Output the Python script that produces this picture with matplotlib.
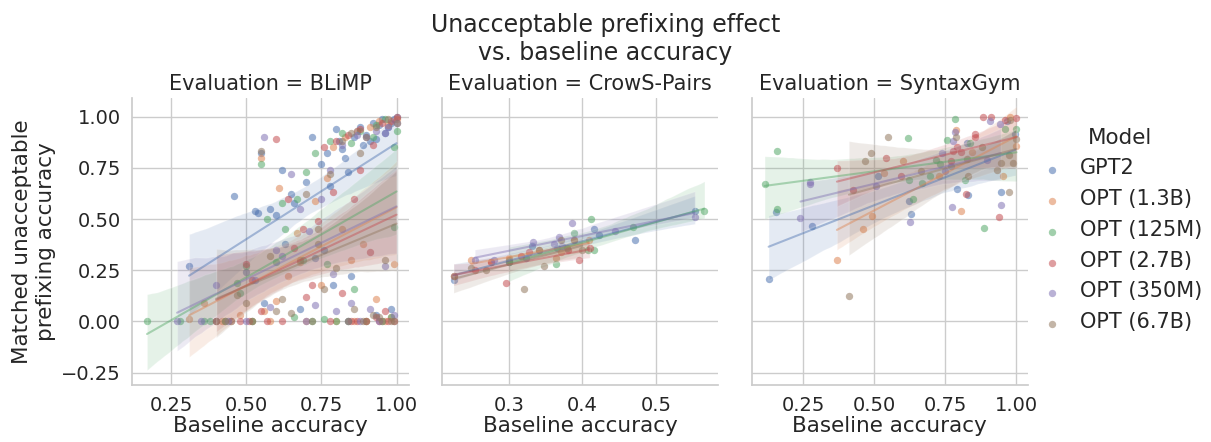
import matplotlib
matplotlib.use("Agg")
import matplotlib.pyplot as plt
from matplotlib.ticker import MultipleLocator, FuncFormatter
import numpy as np
import pandas as pd
import seaborn as sns

models = ["GPT2", "OPT (1.3B)", "OPT (125M)", "OPT (2.7B)", "OPT (350M)", "OPT (6.7B)"]
evaluations = ["BLiMP", "CrowS-Pairs", "SyntaxGym"]

# (baseline accuracy, matched unacceptable prefixing accuracy)
blimp_gpt2 = [(0.31, 0.27), (0.40, 0.0), (0.46, 0.61), (0.50, 0.24), (0.53, 0.54), (0.54, 0.53),
              (0.55, 0.82), (0.56, 0.09), (0.60, 0.52), (0.62, 0.74), (0.63, 0.38), (0.65, 0.62),
              (0.66, 0.58), (0.70, 0.68), (0.72, 0.90), (0.73, 0.31), (0.75, 0.77), (0.77, 0.82),
              (0.78, 0.66), (0.79, 0.18), (0.80, 0.94), (0.81, 0.88), (0.82, 0.84), (0.83, 0.80),
              (0.84, 0.73), (0.86, 0.90), (0.87, 0.93), (0.88, 0.95), (0.89, 0.86), (0.90, 0.91),
              (0.91, 0.88), (0.92, 0.97), (0.93, 0.89), (0.94, 0.96), (0.95, 0.99), (0.96, 0.92),
              (0.97, 0.95), (0.98, 0.97), (0.99, 0.99), (1.00, 1.00), (0.85, 0.22), (0.76, 0.35),
              (0.68, 0.06), (0.58, 0.55), (0.93, 0.03), (0.98, 0.06)]
blimp_opt13b = [(0.31, 0.01), (0.36, 0.09), (0.42, 0.0), (0.48, 0.03), (0.52, 0.0), (0.55, 0.80),
                (0.56, 0.05), (0.61, 0.65), (0.64, 0.22), (0.67, 0.43), (0.70, 0.0), (0.73, 0.59),
                (0.75, 0.18), (0.77, 0.70), (0.79, 0.85), (0.80, 0.0), (0.82, 0.45), (0.83, 0.90),
                (0.85, 0.30), (0.86, 0.0), (0.87, 0.93), (0.89, 0.38), (0.90, 0.0), (0.91, 0.95),
                (0.93, 0.11), (0.94, 0.98), (0.96, 0.0), (0.97, 0.96), (0.99, 0.28), (1.00, 0.99),
                (0.98, 0.02), (0.68, 0.29), (0.60, 0.10), (0.58, 0.0)]
blimp_opt125m = [(0.17, 0.0), (0.28, 0.0), (0.36, 0.0), (0.55, 0.77), (0.43, 0.0), (0.47, 0.19),
                 (0.50, 0.27), (0.48, 0.14), (0.38, 0.0), (0.45, 0.0), (0.52, 0.0), (0.63, 0.45),
                 (0.66, 0.02), (0.67, 0.60), (0.62, 0.58), (0.70, 0.73), (0.73, 0.82), (0.76, 0.01),
                 (0.78, 0.88), (0.80, 0.0), (0.82, 0.92), (0.84, 0.0), (0.85, 0.87), (0.86, 0.16),
                 (0.88, 0.93), (0.90, 0.0), (0.92, 0.90), (0.93, 0.96), (0.95, 0.0), (0.96, 0.99),
                 (0.98, 0.02), (0.99, 0.85), (1.00, 0.93), (0.99, 0.46), (0.77, 0.28), (0.60, 0.29),
                 (0.72, 0.0), (0.69, 0.30), (0.57, 0.50)]
blimp_opt27b = [(0.40, 0.0), (0.45, 0.0), (0.48, 0.0), (0.51, 0.0), (0.50, 0.28), (0.52, 0.20),
                (0.55, 0.05), (0.60, 0.89), (0.62, 0.0), (0.64, 0.60), (0.66, 0.36), (0.69, 0.45),
                (0.72, 0.18), (0.74, 0.49), (0.76, 0.85), (0.78, 0.0), (0.80, 0.88), (0.82, 0.14),
                (0.84, 0.91), (0.85, 0.0), (0.86, 0.60), (0.88, 0.94), (0.90, 0.0), (0.91, 0.34),
                (0.92, 0.86), (0.94, 0.0), (0.95, 0.97), (0.97, 0.0), (0.98, 0.98), (1.00, 1.00),
                (0.88, 0.74), (0.70, 0.12), (0.57, 0.0), (0.79, 0.63), (0.87, 0.0), (0.93, 0.02),
                (0.99, 0.0), (0.96, 0.05)]
blimp_opt350m = [(0.27, 0.0), (0.35, 0.0), (0.44, 0.0), (0.50, 0.0), (0.40, 0.18), (0.53, 0.20),
                 (0.56, 0.90), (0.58, 0.07), (0.62, 0.32), (0.65, 0.72), (0.68, 0.55), (0.70, 0.0),
                 (0.73, 0.08), (0.75, 0.60), (0.78, 0.74), (0.79, 0.23), (0.80, 0.05), (0.82, 0.86),
                 (0.84, 0.0), (0.85, 0.09), (0.87, 0.91), (0.88, 0.0), (0.90, 0.90), (0.91, 0.06),
                 (0.93, 0.93), (0.94, 0.0), (0.96, 0.92), (0.97, 0.95), (0.99, 0.03), (1.00, 0.97),
                 (0.96, 0.27), (0.71, 0.44), (0.60, 0.35)]
blimp_opt67b = [(0.40, 0.0), (0.43, 0.0), (0.47, 0.13), (0.50, 0.09), (0.52, 0.0), (0.55, 0.83),
                (0.58, 0.32), (0.62, 0.11), (0.65, 0.04), (0.70, 0.62), (0.72, 0.0), (0.74, 0.45),
                (0.76, 0.16), (0.78, 0.72), (0.80, 0.26), (0.82, 0.88), (0.84, 0.0), (0.85, 0.92),
                (0.86, 0.06), (0.88, 0.82), (0.89, 0.0), (0.90, 0.90), (0.92, 0.03), (0.93, 0.95),
                (0.95, 0.0), (0.96, 0.30), (0.97, 0.99), (0.99, 0.0), (1.00, 0.97), (0.74, 0.38),
                (0.68, 0.30), (0.60, 0.05), (0.98, 0.0), (0.94, 0.02)]

crows_gpt2 = [(0.225, 0.20), (0.30, 0.29), (0.324, 0.31), (0.332, 0.37), (0.365, 0.36),
              (0.416, 0.45), (0.423, 0.42), (0.471, 0.40), (0.553, 0.54)]
crows_opt13b = [(0.249, 0.30), (0.276, 0.29), (0.30, 0.31), (0.341, 0.35), (0.364, 0.31),
                (0.371, 0.34), (0.389, 0.40), (0.409, 0.40)]
crows_opt125m = [(0.30, 0.29), (0.364, 0.28), (0.389, 0.43), (0.408, 0.35), (0.412, 0.50),
                 (0.416, 0.35), (0.469, 0.46), (0.566, 0.54)]
crows_opt27b = [(0.225, 0.22), (0.254, 0.25), (0.276, 0.29), (0.296, 0.19), (0.317, 0.32),
                (0.327, 0.34), (0.380, 0.35), (0.396, 0.30), (0.410, 0.36)]
crows_opt350m = [(0.254, 0.30), (0.280, 0.30), (0.333, 0.39), (0.362, 0.38), (0.368, 0.41),
                 (0.372, 0.37), (0.386, 0.48), (0.444, 0.44), (0.553, 0.51)]
crows_opt67b = [(0.225, 0.22), (0.249, 0.26), (0.269, 0.25), (0.30, 0.30), (0.321, 0.16),
                (0.341, 0.35), (0.348, 0.27), (0.371, 0.40), (0.379, 0.36), (0.389, 0.40),
                (0.400, 0.35)]

sg_gpt2 = [(0.129, 0.206), (0.156, 0.534), (0.283, 0.466), (0.512, 0.709), (0.622, 0.586),
           (0.631, 0.526), (0.770, 0.757), (0.792, 0.647), (0.825, 0.870), (0.831, 0.618),
           (0.946, 0.631), (0.966, 0.979), (0.996, 0.914)]
sg_opt13b = [(0.369, 0.301), (0.462, 0.451), (0.494, 0.515), (0.536, 0.725), (0.601, 0.782),
             (0.729, 0.712), (0.786, 0.934), (0.804, 0.539), (0.844, 0.828), (0.954, 0.709),
             (0.978, 1.000), (1.000, 0.858)]
sg_opt125m = [(0.115, 0.672), (0.160, 0.833), (0.158, 0.550), (0.620, 0.895), (0.622, 0.690),
              (0.637, 0.597), (0.667, 0.676), (0.696, 0.712), (0.716, 0.788), (0.730, 0.770),
              (0.757, 0.887), (0.784, 0.990), (0.819, 0.688), (0.837, 0.869), (0.886, 0.458),
              (0.960, 0.939), (1.000, 0.940)]
sg_opt27b = [(0.369, 0.751), (0.427, 0.644), (0.543, 0.796), (0.593, 0.712), (0.769, 0.785),
             (0.778, 0.833), (0.790, 0.850), (0.804, 0.828), (0.821, 0.623), (0.855, 0.914),
             (0.855, 0.898), (0.884, 1.000), (0.912, 1.000), (0.940, 0.510), (0.960, 0.984),
             (1.000, 0.995)]
sg_opt350m = [(0.241, 0.506), (0.276, 0.672), (0.276, 0.683), (0.508, 0.663), (0.626, 0.485),
              (0.737, 0.822), (0.749, 0.736), (0.773, 0.561), (0.778, 0.879), (0.784, 0.926),
              (0.896, 0.788), (0.908, 0.979), (0.941, 0.963), (0.945, 0.566)]
sg_opt67b = [(0.411, 0.125), (0.467, 0.785), (0.490, 0.822), (0.548, 0.898), (0.663, 0.736),
             (0.788, 0.898), (0.825, 0.793), (0.831, 0.712), (0.879, 0.850), (0.933, 0.739),
             (0.945, 0.773), (0.972, 0.631), (0.973, 0.812), (0.978, 0.984), (0.987, 0.773),
             (1.000, 0.890)]

series = {
    "BLiMP": [blimp_gpt2, blimp_opt13b, blimp_opt125m, blimp_opt27b, blimp_opt350m, blimp_opt67b],
    "CrowS-Pairs": [crows_gpt2, crows_opt13b, crows_opt125m, crows_opt27b, crows_opt350m, crows_opt67b],
    "SyntaxGym": [sg_gpt2, sg_opt13b, sg_opt125m, sg_opt27b, sg_opt350m, sg_opt67b],
}

rows = []
for ev in evaluations:
    for model, pts in zip(models, series[ev]):
        for bx, my in pts:
            rows.append({"Evaluation": ev, "Model": model,
                         "Baseline accuracy": bx,
                         "Matched unacceptable\nprefixing accuracy": my})
df = pd.DataFrame(rows)

sns.set_theme(style="whitegrid", palette="deep")
plt.rcParams["font.family"] = ["DejaVu Sans"]

g = sns.lmplot(data=df, x="Baseline accuracy", y="Matched unacceptable\nprefixing accuracy",
               hue="Model", hue_order=models, col="Evaluation", col_order=evaluations,
               height=3.5, aspect=1.0, seed=0, legend=False,
               scatter_kws={"s": 28, "alpha": 0.55, "linewidths": 0},
               line_kws={"alpha": 0.45, "linewidth": 1.5},
               facet_kws={"sharex": False, "sharey": True})
g.add_legend(title="Model", label_order=models, labelspacing=0.7)

g.figure.set_size_inches(12.11, 4.42)
g.figure.subplots_adjust(left=0.109, right=0.849, top=0.778, bottom=0.129, wspace=0.12)

g.set_titles("Evaluation = {col_name}")


def two_dec(v, pos):
    return f"{v:.2f}".replace("-", "\u2212")


xlims = [(0.12, 1.04), (0.209, 0.585), (0.069, 1.041)]
xsteps = [0.25, 0.1, 0.25]
for ax, lim, step in zip(g.axes.flat, xlims, xsteps):
    ax.set_xlim(lim)
    ax.set_ylim(-0.31, 1.09)
    ax.xaxis.set_major_locator(MultipleLocator(step))
    ax.yaxis.set_major_locator(MultipleLocator(0.25))
    ax.yaxis.set_major_formatter(FuncFormatter(two_dec))
    if step == 0.25:
        ax.xaxis.set_major_formatter(FuncFormatter(two_dec))
    ax.tick_params(labelsize=14, pad=2)
    ax.xaxis.label.set_size(15.5)
    ax.yaxis.label.set_size(15.5)
    ax.xaxis.labelpad = 1
    ax.title.set_size(15)

g.figure.suptitle("Unacceptable prefixing effect\nvs. baseline accuracy", fontsize=17, y=0.97)

leg = g._legend
leg.set_bbox_to_anchor((0.845, 0.48))
leg.set_loc("center left")
leg.get_title().set_fontsize(15.5)
for t in leg.get_texts():
    t.set_fontsize(15)

g.figure.savefig("out.png", dpi=100)
